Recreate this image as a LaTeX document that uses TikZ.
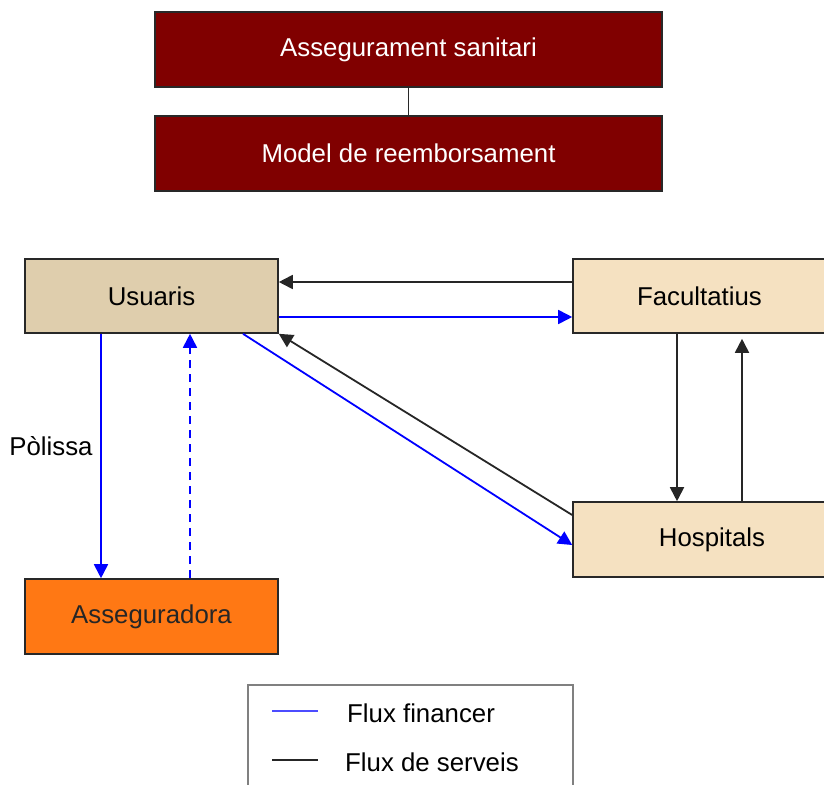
\documentclass[tikz,border=0pt]{standalone}
\usepackage{fontspec}
\setmainfont{Liberation Sans}
\usetikzlibrary{arrows.meta,calc}

\definecolor{maroon}{RGB}{128,0,0}
\definecolor{usercol}{RGB}{223,206,173}
\definecolor{providercol}{RGB}{245,225,193}
\definecolor{insurercol}{RGB}{255,120,20}
\definecolor{boxline}{RGB}{40,40,40}
\definecolor{finblue}{RGB}{0,0,255}
\definecolor{legendline}{RGB}{128,128,128}

\tikzset{
  every node/.style={font=\fontsize{25.8}{30}\selectfont},
  box/.style={draw=boxline, line width=1.6pt, minimum width=253pt, minimum height=74pt, inner sep=0pt},
  titlebox/.style={box, fill=maroon, text=white, minimum width=507pt, minimum height=75pt},
  fin/.style={draw=finblue, line width=1.8pt, -{Triangle[length=14pt,width=14pt]}},
  svc/.style={draw=black!85, line width=1.8pt, -{Triangle[length=14pt,width=14pt]}},
  findash/.style={fin, dash pattern=on 8pt off 6pt}
}

\begin{document}
\begin{tikzpicture}[x=1pt,y=-1pt]
  \useasboundingbox (0,0) rectangle (824,784);
  \clip (0,0) rectangle (824,784);

  % title blocks
  \node[titlebox] (seg) at (408.5,49.5) {\raisebox{-2pt}{Assegurament sanitari}};
  \node[titlebox] (model) at (408.5,153.5) {\raisebox{-1pt}{Model de reemborsament}};
  \draw[line width=1.6pt, boxline] (seg.south) -- (model.north);

  % actors
  \node[box, fill=usercol] (usu) at (151.5,296) {Usuaris};
  \node[box, fill=providercol] (fac) at (699.5,296) {Facultatius};
  \node[box, fill=providercol, minimum height=75pt] (hosp) at (699.5,539.5) {\hspace*{25pt}\raisebox{-2pt}{Hospitals}};
  \node[box, fill=insurercol, text=black!85, minimum height=75pt] (aseg) at (151.5,616.5) {Asseguradora};

  % flows between users and providers
  \draw[svc] ([yshift=14pt]fac.west) -- ([yshift=14pt]usu.east);
  \draw[fin] ([yshift=-21pt]usu.east) -- ([yshift=-21pt]fac.west);
  \draw[fin] ([xshift=91.5pt]usu.south) -- ([yshift=-5.5pt]hosp.west);
  \draw[svc] ([yshift=24.5pt]hosp.west) -- (usu.south east);
  \draw[svc] ([xshift=-22.5pt]fac.south) -- ([xshift=-22.5pt]hosp.north);
  \draw[svc] ([xshift=42.5pt]hosp.north) -- ([xshift=42.5pt,yshift=-5pt]fac.south);

  % flows between users and insurer
  \draw[fin] ([xshift=-50.5pt]usu.south) -- ([xshift=-50.5pt]aseg.north);
  \draw[findash] ([xshift=38.5pt]aseg.north) -- ([xshift=38.5pt]usu.south);
  \node (pol) at (51,446) {Pòlissa};

  % legend
  \draw[legendline, line width=2.5pt] (248,685) rectangle (573,800);
  \coordinate (lf1) at (272,711);
  \coordinate (lf2) at (318,711);
  \coordinate (ls1) at (272,760);
  \coordinate (ls2) at (318,760);
  \draw[finblue!70, line width=1.8pt] (lf1) -- (lf2);
  \draw[black!85, line width=1.8pt] (ls1) -- (ls2);
  \node[anchor=west, inner sep=0pt] (lfin) at (347,713) {Flux financer};
  \node[anchor=west, inner sep=0pt] (lsvc) at (345,762) {Flux de serveis};
\end{tikzpicture}
\end{document}
